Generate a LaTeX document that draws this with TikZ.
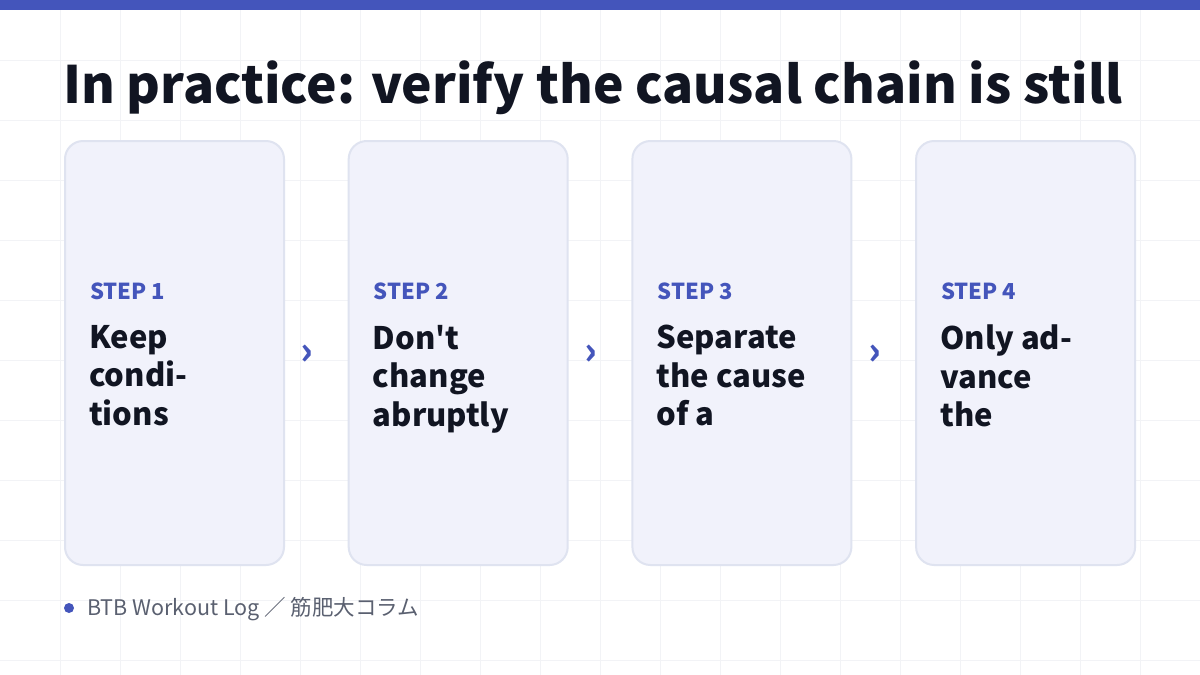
\documentclass[tikz,border=0pt]{standalone}
\usepackage{fontspec}
\setmainfont{Noto Sans CJK JP}[BoldFont={Noto Sans CJK JP Black}]
\newfontfamily\cjk{Noto Sans CJK JP}
\newfontfamily\heavyq{Noto Sans CJK JP Black}
\definecolor{accent}{HTML}{4455BB}
\definecolor{ink}{HTML}{111522}
\definecolor{cardfill}{HTML}{F1F2FB}
\definecolor{cardline}{HTML}{DFE3F0}
\definecolor{gridline}{HTML}{F2F3F6}
\definecolor{muted}{HTML}{5A6070}
\begin{document}
\begin{tikzpicture}[x=1pt,y=-1pt]
	\tikzset{card/.style={draw=cardline, line width=2pt, fill=cardfill, rounded corners=18pt}}
	\tikzset{steplabel/.style={anchor=base west, inner sep=0, text=accent, font=\fontsize{22}{26}\selectfont\bfseries}}
	\tikzset{body/.style={anchor=north west, inner sep=0, align=left, text=ink, font=\fontsize{31}{38.5}\selectfont\bfseries}}
	\tikzset{chev/.style={text=accent, inner sep=0, font=\fontsize{38}{38}\selectfont\bfseries}}
	\useasboundingbox (0,0) rectangle (1200,675);
	\fill[white] (0,0) rectangle (1200,675);
	\foreach \gx in {60,120,...,1140} \draw[gridline, line width=1pt] (\gx,0) -- (\gx,675);
	\foreach \gy in {60,120,...,660} \draw[gridline, line width=1pt] (0,\gy) -- (1200,\gy);
	\fill[accent] (0,0) rectangle (1200,10);
	\node[anchor=base west, inner sep=0, text=ink, font=\fontsize{51.5}{60}\selectfont\bfseries] (title) at (63,103) {In practice: verify the causal chain is still};
	% cards
	\foreach \i/\txt in {1/Keep\\condi-\\tions, 2/Don{\heavyq '}t\\change\\abruptly, 3/Separate\\the cause\\of a, 4/Only ad-\\vance\\the} {
		\draw[card] ({65+283.7*(\i-1)},141) rectangle ({284+283.7*(\i-1)},565);
		\node[steplabel] (s\i) at ({90+283.7*(\i-1)},299) {STEP \i};
		\node[body] (b\i) at ({89+283.7*(\i-1)},325) {\txt};
	}
	\foreach \i in {1,2,3} \node[chev] (c\i) at ({307+283.7*(\i-1)},355) {›};
	% footer
	\fill[accent] (69,608) circle (5);
	\node[anchor=base west, inner sep=0, text=muted, font=\fontsize{21.5}{24}\selectfont] (foot) at (87,615) {BTB Workout Log {\cjk ／ 筋肥大コラム}};
\end{tikzpicture}
\end{document}
